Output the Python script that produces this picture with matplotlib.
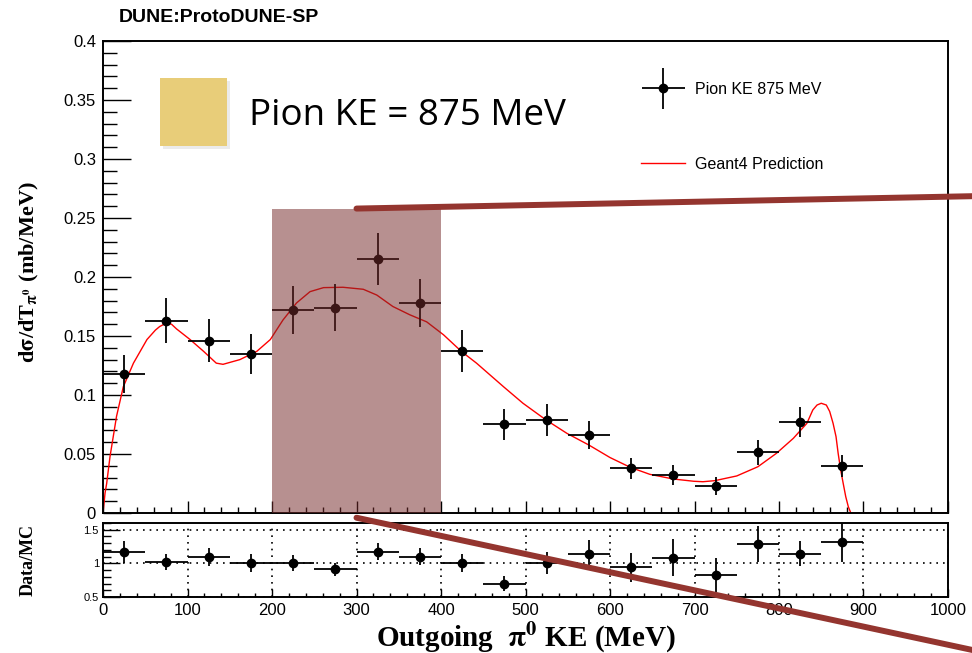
import numpy as np
import matplotlib.pyplot as plt
from matplotlib.patches import Rectangle, ConnectionPatch
from matplotlib.ticker import MultipleLocator, FuncFormatter
from matplotlib.legend_handler import HandlerErrorbar
from matplotlib.container import ErrorbarContainer

plt.rcParams['mathtext.fontset'] = 'stix'

# pi0 kinetic energy bins (centres, MeV) and measured cross section
ke = np.arange(25, 900, 50)
xsec = [0.118, 0.163, 0.146, 0.135, 0.172, 0.174, 0.215, 0.178, 0.1375,
        0.075, 0.079, 0.066, 0.038, 0.032, 0.023, 0.0514, 0.077, 0.040]
xsec_err = [0.016, 0.019, 0.018, 0.017, 0.020, 0.020, 0.022, 0.020, 0.018,
            0.013, 0.0135, 0.012, 0.009, 0.0083, 0.0074, 0.0105, 0.013, 0.0095]
bin_half = 25

# Geant4 prediction
g4_ke = [0, 2.4, 4.3, 8.3, 16, 24, 36, 52, 62, 67, 75, 81, 87, 103, 119, 134, 142,
         162, 182, 198, 213, 229, 245, 261, 284, 308, 324, 343, 363, 383, 403, 424,
         442, 458, 474, 497, 524, 549, 575, 600, 624, 647, 675, 699, 710, 724,
         750, 775, 797, 817, 833, 840, 845, 850, 856, 860, 864, 867.5, 870, 873,
         876, 879, 882, 885, 900, 1000]
g4_xsec = [0, 0.017, 0.025, 0.048, 0.082, 0.107, 0.127, 0.147, 0.155, 0.158, 0.161,
           0.160, 0.156, 0.147, 0.137, 0.127, 0.126, 0.130, 0.137, 0.147, 0.1636,
           0.178, 0.1876, 0.191, 0.1913, 0.1896, 0.1847, 0.175, 0.168, 0.162, 0.151,
           0.137, 0.127, 0.117, 0.107, 0.093, 0.079, 0.0675, 0.0576, 0.047,
           0.0387, 0.0328, 0.0288, 0.0269, 0.0265, 0.0274, 0.0314, 0.0392,
           0.0506, 0.0633, 0.076, 0.0873, 0.0915, 0.093, 0.0915, 0.086, 0.076,
           0.0647, 0.0506, 0.0364, 0.025, 0.0138, 0.0054, 0, 0, 0]

# data / MC ratio
ratio = [1.17, 1.02, 1.094, 1.005, 1.0, 0.91, 1.175, 1.10, 1.005,
         0.70, 1.01, 1.145, 0.94, 1.085, 0.826, 1.29, 1.145, 1.31]
ratio_err = [0.165, 0.125, 0.134, 0.13, 0.12, 0.10, 0.125, 0.125, 0.13,
             0.11, 0.165, 0.205, 0.22, 0.28, 0.25, 0.27, 0.19, 0.29]

highlight_lo, highlight_hi, highlight_top = 200, 400, 0.258

sans = 'Liberation Sans'
serif = 'Liberation Serif'

fig = plt.figure(figsize=(9.72, 6.53), dpi=100)
ax = fig.add_axes([0.106, 0.2144, 0.8693, 0.7228])
rax = fig.add_axes([0.106, 0.0858, 0.8693, 0.1133])

# --- main panel
eb = ax.errorbar(ke, xsec, yerr=xsec_err, xerr=bin_half, fmt='o', color='black',
                 ms=6, elinewidth=1.3, capsize=0, label='Pion KE 875 MeV', zorder=3)
g4_line, = ax.plot(g4_ke, g4_xsec, color='red', lw=1.0, label='Geant4 Prediction',
                   zorder=2)

ax.set_xlim(0, 1000)
ax.set_ylim(0, 0.4)
ax.yaxis.set_major_locator(MultipleLocator(0.05))
ax.yaxis.set_minor_locator(MultipleLocator(0.01))
ax.xaxis.set_major_locator(MultipleLocator(100))
ax.xaxis.set_minor_locator(MultipleLocator(20))
ax.yaxis.set_major_formatter(FuncFormatter(lambda v, p: f'{v:g}'))
ax.tick_params(which='both', direction='in', top=False, right=False,
               labelbottom=False, width=1.0)
ax.tick_params(axis='y', which='major', length=20, labelsize=12, pad=5)
ax.tick_params(axis='y', which='minor', length=10)
ax.tick_params(axis='x', which='major', length=8.6)
ax.tick_params(axis='x', which='minor', length=4.3)
for lab in ax.get_yticklabels():
    lab.set_fontfamily(sans)
for s in ax.spines.values():
    s.set_linewidth(1.4)

ax.set_ylabel(r'd$\mathbf{\sigma}$/dT$_{\mathbf{\pi^{0}}}$ (mb/MeV)', fontfamily=serif,
              fontweight='bold', fontsize=16)
ax.yaxis.set_label_coords(-0.073, 0.51)

ax.legend(handles=[eb, g4_line], loc='upper left', bbox_to_anchor=(0.637, 0.913),
          frameon=False, prop={'family': sans, 'size': 11.5}, handlelength=2.75,
          handletextpad=0.6, labelspacing=3.75, borderpad=0, borderaxespad=0,
          handler_map={ErrorbarContainer: HandlerErrorbar(xerr_size=1.35, yerr_size=1.3)})

# highlighted energy window
ax.add_patch(Rectangle((highlight_lo, 0), highlight_hi - highlight_lo, highlight_top,
                       facecolor=(0.46, 0.17, 0.17), alpha=0.52, edgecolor='none',
                       zorder=5, clip_on=False))

# --- ratio panel
rax.errorbar(ke, ratio, yerr=ratio_err, xerr=bin_half, fmt='o', color='black',
             ms=6, elinewidth=1.3, capsize=0)
rax.set_xlim(0, 1000)
rax.set_ylim(0.5, 1.6)
rax.set_yticks([0.5, 1, 1.5])
rax.yaxis.set_minor_locator(MultipleLocator(0.1))
rax.xaxis.set_major_locator(MultipleLocator(100))
rax.xaxis.set_minor_locator(MultipleLocator(20))
rax.yaxis.set_major_formatter(FuncFormatter(lambda v, p: f'{v:g}'))
rax.tick_params(which='both', direction='in', top=False, right=False, width=1.0)
rax.tick_params(axis='y', which='major', length=12, labelsize=8, pad=3)
rax.tick_params(axis='y', which='minor', length=6)
rax.tick_params(axis='x', which='major', length=6, labelsize=12, pad=4)
rax.tick_params(axis='x', which='minor', length=3)
for lab in rax.get_xticklabels() + rax.get_yticklabels():
    lab.set_fontfamily(sans)
for s in rax.spines.values():
    s.set_linewidth(1.4)
rax.grid(True, which='major', color='black', ls=(0, (1, 3)), lw=1.2)

rax.set_ylabel('Data/MC', fontfamily=serif, fontweight='bold', fontsize=13)
rax.yaxis.set_label_coords(-0.078, 0.5)
rax.set_xlabel(r'Outgoing  $\mathbf{\pi^{0}}$ KE (MeV)', fontfamily=serif,
               fontweight='bold', fontsize=21)
rax.xaxis.set_label_coords(0.5, -0.295)

fig.text(119 / 972, 1 - 17 / 653, 'DUNE:ProtoDUNE-SP', fontfamily=sans,
         fontweight='bold', fontsize=14, va='center')

# slide-style call-out: swatch and energy label
fig.patches.append(Rectangle((163 / 972, 1 - 149 / 653), 67 / 972, 68 / 653,
                             transform=fig.transFigure, facecolor='#d8d8d8',
                             alpha=0.5, edgecolor='none', zorder=6))
fig.patches.append(Rectangle((160 / 972, 1 - 146 / 653), 67 / 972, 68 / 653,
                             transform=fig.transFigure, facecolor='#E8CD79',
                             edgecolor='none', zorder=7))
fig.text(249 / 972, 1 - 125 / 653, 'Pion KE = 875 MeV', fontfamily='Open Sans',
         fontsize=26.5, va='baseline', zorder=7)

# pointer lines from the highlighted window
line_col = '#94352F'
fig.add_artist(ConnectionPatch(xyA=(300, highlight_top), coordsA=ax.transData,
                               xyB=(1.01, 1 - 196 / 653), coordsB=fig.transFigure,
                               color=line_col, lw=4.3, zorder=8))
fig.add_artist(ConnectionPatch(xyA=(300, -0.004), coordsA=ax.transData,
                               xyB=(1.01, 1 - 652 / 653), coordsB=fig.transFigure,
                               color=line_col, lw=4.3, zorder=8))

fig.savefig('out.png', dpi=100)
